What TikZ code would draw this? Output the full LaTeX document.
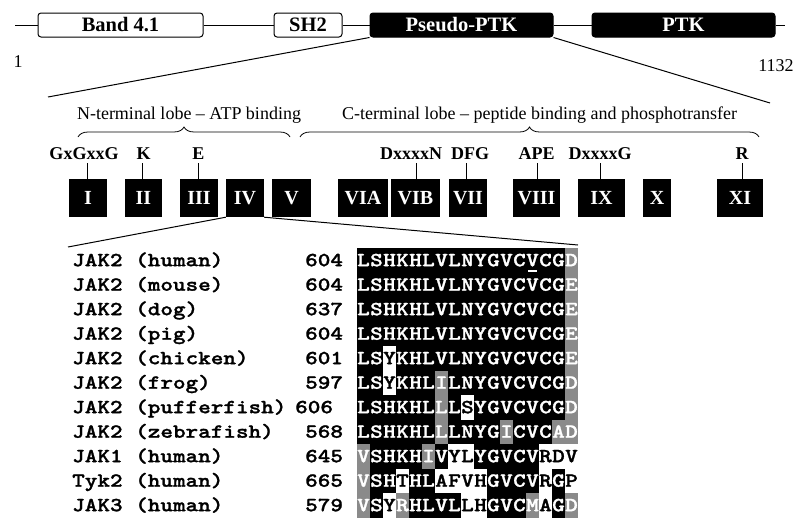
\documentclass[tikz,border=0pt]{standalone}
\usepackage{fontspec}
\setmainfont{Liberation Serif}
\newfontfamily\monob[Extension=.otf,FakeStretch=1.2,FakeBold=1.3]{lmmonolt10-bold}
\usetikzlibrary{decorations.pathreplacing}
\definecolor{cellb}{RGB}{0,0,0}
\definecolor{cellg}{RGB}{138,138,138}
\definecolor{cellw}{RGB}{255,255,255}
\colorlet{txtb}{white}
\colorlet{txtg}{white}
\colorlet{txtw}{black}
\tikzset{
 dombox/.style={draw, line width=1pt, rounded corners=3pt, minimum height=24pt, inner sep=0pt, font=\fontsize{20.5}{20.5}\selectfont\bfseries},
 domw/.style={dombox, fill=white, text=black},
 domk/.style={dombox, fill=black, text=white},
 subbox/.style={fill=black, text=white, minimum height=38pt, inner sep=0pt, font=\fontsize{20}{20}\selectfont\bfseries},
 motif/.style={anchor=base, inner sep=0pt, font=\fontsize{18}{18}\selectfont\bfseries},
 tickline/.style={line width=0.8pt},
 lobe/.style={anchor=base, inner sep=0pt, font=\fontsize{18}{18}\selectfont},
 brc/.style={decorate, decoration={brace, amplitude=10pt}, line width=0.8pt},
 conn/.style={line width=1pt},
 seqname/.style={anchor=base west, inner sep=0pt, font=\monob\fontsize{20}{20}\selectfont},
 seqres/.style={anchor=base, inner sep=0pt, font=\monob\fontsize{20}{20}\selectfont},
 posnum/.style={anchor=base, inner sep=0pt, font=\fontsize{18}{18}\selectfont},
}
\newcommand\alrow[2]{%
 \foreach \ch/\cd [count=\ci] in {#2} {
   \pgfmathsetmacro\cx{357+13*(\ci-1)}
   \pgfmathsetmacro\cy{248+24.5*(#1-1)}
   \fill[cell\cd] (\cx,\cy) rectangle ++(13,24.5);
   \node[seqres, text=txt\cd] (s-#1-\ci) at (\cx+6.5,\cy+18.2) {\ch};
 }}
\newcommand\alname[4]{% row, name, number, number x
 \pgfmathsetmacro\ny{248+24.5*(#1-1)+18.2}
 \node[seqname] (n-#1) at (72,\ny) {#2};
 \node[seqname] (p-#1) at (#4,\ny) {#3};
}
\begin{document}
\begin{tikzpicture}[x=1pt,y=-1pt]
\useasboundingbox (0,0) rectangle (800,525);
% domain bar
\node[domw, minimum width=165] (band) at (120.5,25) {Band 4.1};
\node[domw, minimum width=68] (sh2) at (308,25) {SH2};
\node[domk, minimum width=183] (pseudo) at (461.5,25) {Pseudo-PTK};
\node[domk, minimum width=183] (ptk) at (683.5,25) {PTK};
\coordinate (bb0) at (15,25);
\coordinate (bb1) at (785,25);
\draw[conn] (bb0) -- (band.west);
\draw[conn] (band.east) -- (sh2.west);
\draw[conn] (sh2.east) -- (pseudo.west);
\draw[conn] (pseudo.east) -- (ptk.west);
\draw[conn] (ptk.east) -- (bb1);
\node[posnum] (one) at (18,67) {1};
\node[posnum] (end) at (776,71) {1132};
% expansion
\coordinate (ex1) at (48,97);
\coordinate (ex2) at (770,103);
\draw[conn] (pseudo.south west) -- (ex1);
\draw[conn] (pseudo.south east) -- (ex2);
% lobes
\node[lobe] (nl) at (189,119) {N-terminal lobe -- ATP binding};
\node[lobe] (cl) at (539.5,119) {C-terminal lobe -- peptide binding and phosphotransfer};
\coordinate (b1a) at (78,137);
\coordinate (b1b) at (290,137);
\coordinate (b2a) at (300,137);
\coordinate (b2b) at (759,137);
\draw[brc] (b1a) -- (b1b);
\draw[brc] (b2a) -- (b2b);
% subdomains
\foreach \nm/\xa/\xb in {I/69/107, II/125/162, III/180/218, IV/226/264, V/272/311, VIA/338/388, VIB/391/440, VII/449/487, VIII/513/560, IX/578/625, X/643/671, XI/717/763}{
  \node[subbox, minimum width=\xb-\xa] (d\nm) at ({(\xa+\xb)/2},198) {\nm};
}
% motifs
\foreach \lab/\lx/\tx/\bx in {GxGxxG/84/87/I, K/143.5/142/II, E/198.5/198/III, DxxxxN/411/416/VIB, DFG/470/466/VII, APE/536.5/537/VIII, DxxxxG/600/600/IX, R/742/742/XI}{
  \node[motif] (m\lab) at (\lx,159) {\lab};
  \coordinate (t\lab) at (\tx,163);
  \draw[tickline] (t\lab) -- (t\lab |- d\bx.north);
}
% zoom to alignment
\coordinate (al1) at (68,247);
\coordinate (al2) at (578,245);
\draw[conn] (dIV.south west) -- (al1);
\draw[conn] (dIV.south east) -- (al2);
% alignment
\alrow{1}{L/b,S/b,H/b,K/b,H/b,L/b,V/b,L/b,N/b,Y/b,G/b,V/b,C/b,V/b,C/b,G/b,D/g}
\alrow{2}{L/b,S/b,H/b,K/b,H/b,L/b,V/b,L/b,N/b,Y/b,G/b,V/b,C/b,V/b,C/b,G/b,E/g}
\alrow{3}{L/b,S/b,H/b,K/b,H/b,L/b,V/b,L/b,N/b,Y/b,G/b,V/b,C/b,V/b,C/b,G/b,E/g}
\alrow{4}{L/b,S/b,H/b,K/b,H/b,L/b,V/b,L/b,N/b,Y/b,G/b,V/b,C/b,V/b,C/b,G/b,E/g}
\alrow{5}{L/b,S/b,Y/w,K/b,H/b,L/b,V/b,L/b,N/b,Y/b,G/b,V/b,C/b,V/b,C/b,G/b,E/g}
\alrow{6}{L/b,S/b,Y/w,K/b,H/b,L/b,I/g,L/b,N/b,Y/b,G/b,V/b,C/b,V/b,C/b,G/b,D/g}
\alrow{7}{L/b,S/b,H/b,K/b,H/b,L/b,L/g,L/b,S/w,Y/b,G/b,V/b,C/b,V/b,C/b,G/b,D/g}
\alrow{8}{L/b,S/b,H/b,K/b,H/b,L/b,L/g,L/b,N/b,Y/b,G/b,I/g,C/b,V/b,C/b,A/g,D/g}
\alrow{9}{V/g,S/b,H/b,K/b,H/b,I/g,V/b,Y/w,L/w,Y/b,G/b,V/b,C/b,V/b,R/w,D/w,V/w}
\alrow{10}{V/g,S/b,H/b,T/w,H/b,L/b,A/w,F/w,V/w,H/w,G/b,V/b,C/b,V/b,R/w,G/b,P/w}
\alrow{11}{V/g,S/b,Y/w,R/g,H/b,L/b,V/b,L/b,L/w,H/w,G/b,V/b,C/b,M/g,A/w,G/b,D/g}
\draw[white, line width=1.5pt, shorten <=2pt, shorten >=2pt] ([yshift=-5pt]s-1-14.base west) -- ([yshift=-5pt]s-1-14.base east);
% names
\alname{1}{JAK2 (human)}{604}{305}
\alname{2}{JAK2 (mouse)}{604}{305}
\alname{3}{JAK2 (dog)}{637}{305}
\alname{4}{JAK2 (pig)}{604}{305}
\alname{5}{JAK2 (chicken)}{601}{305}
\alname{6}{JAK2 (frog)}{597}{305}
\alname{7}{JAK2 (pufferfish)}{606}{295}
\alname{8}{JAK2 (zebrafish)}{568}{305}
\alname{9}{JAK1 (human)}{645}{305}
\alname{10}{Tyk2 (human)}{665}{305}
\alname{11}{JAK3 (human)}{579}{305}
\end{tikzpicture}
\end{document}
